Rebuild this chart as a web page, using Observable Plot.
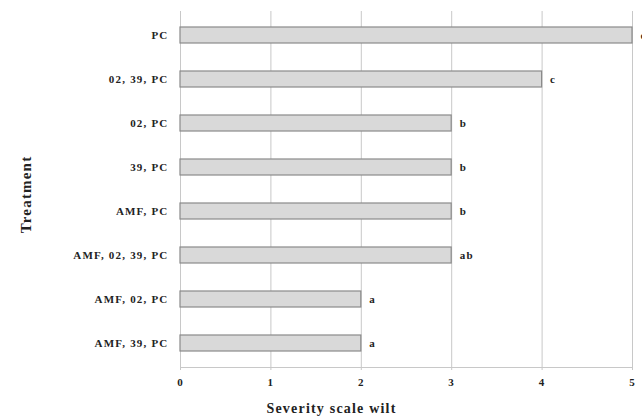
<!DOCTYPE html>
<html>
<head>
<meta charset="utf-8">
<script src="https://cdn.jsdelivr.net/npm/d3@7"></script>
<script src="https://cdn.jsdelivr.net/npm/@observablehq/plot@0.6"></script>
<style>
  html, body { margin: 0; padding: 0; background: #fff; }
  #chart { width: 642px; height: 420px; }
</style>
</head>
<body>
<div id="chart"></div>
<script>
const treatments = ["PC", "02, 39, PC", "02, PC", "39, PC", "AMF, PC", "AMF, 02, 39, PC", "AMF, 02, PC", "AMF, 39, PC"];
const severity = [5, 4, 3, 3, 3, 3, 2, 2];
const letters = ["d", "c", "b", "b", "b", "ab", "a", "a"];
const xTicks = [0, 1, 2, 3, 4, 5];

const data = treatments.map((t, i) => ({treatment: t, value: severity[i], letter: letters[i]}));

const chart = Plot.plot({
  width: 642,
  height: 420,
  marginLeft: 180,
  marginRight: 10,
  marginTop: 11,
  marginBottom: 53,
  style: {fontFamily: "'Liberation Serif', 'Times New Roman', serif", fontWeight: "bold", fontSize: "11px", background: "#fff", color: "#222", letterSpacing: "1.2px"},
  x: {domain: [0, 5], ticks: xTicks, label: null},
  y: {domain: treatments, paddingInner: 0.64, paddingOuter: 0.32, label: null},
  marks: [
    Plot.ruleX(xTicks, {stroke: "#c8c8c8", strokeWidth: 1}),
    Plot.frame({anchor: "bottom", stroke: "#c8c8c8"}),
    Plot.axisX({ticks: xTicks, tickFormat: "d", tickSize: 3, tickPadding: 8, stroke: "#c8c8c8", fill: "#222", label: null}),
    Plot.axisY({tickSize: 0, tickPadding: 12, label: null}),
    Plot.barX(data, {x: "value", y: "treatment", fill: "#d9d9d9", stroke: "#8a8a8a", strokeWidth: 1.2}),
    Plot.text(data, {x: "value", y: "treatment", text: "letter", textAnchor: "start", dx: 8, fontSize: 11, fontWeight: "bold"}),
    Plot.text(["Severity scale wilt"], {frameAnchor: "bottom-left", textAnchor: "middle", dx: 151, dy: 45, fontSize: 14, fontWeight: "bold"}),
    Plot.text(["Treatment"], {frameAnchor: "top-left", textAnchor: "middle", dx: -160, dy: 183, rotate: -90, fontSize: 15, fontWeight: "bold"})
  ]
});
document.getElementById("chart").appendChild(chart);
</script>
</body>
</html>
